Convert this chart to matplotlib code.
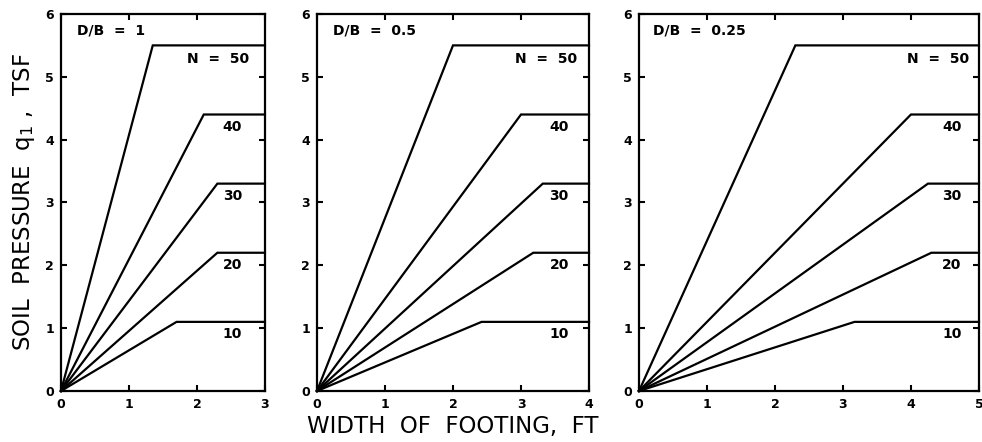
import matplotlib.pyplot as plt

# N values and plateau soil pressure (tsf) for every curve
N_values = [50, 40, 30, 20, 10]
plateau = [5.5, 4.4, 3.3, 2.2, 1.1]

# width of footing (ft) where each curve reaches its plateau, per D/B panel
db_labels = ["D/B  =  1", "D/B  =  0.5", "D/B  =  0.25"]
x_max = [3, 4, 5]
knee_db1 = [1.35, 2.1, 2.3, 2.3, 1.7]
knee_db05 = [2.0, 3.0, 3.32, 3.18, 2.42]
knee_db025 = [2.3, 4.0, 4.25, 4.3, 3.17]
knees = [knee_db1, knee_db05, knee_db025]

plt.rcParams['font.family'] = ['DejaVu Sans']

fig = plt.figure(figsize=(9.82, 4.42), dpi=100)

# axes placement in figure fraction (same px per ft in every panel)
lefts = [0.0621, 0.3228, 0.6507]
widths = [0.2077, 0.2770, 0.3462]
bottom, height = 0.1154, 0.853
# label placement in axes fraction
db_left = [0.08, 0.06, 0.04]
n50_right = [0.92, 0.955, 0.97]
num_center = [0.84, 0.89, 0.92]

txt_font = dict(fontsize=10, fontweight='bold')

for i in range(3):
    ax = fig.add_axes([lefts[i], bottom, widths[i], height])
    xm = x_max[i]
    for n, p, k in zip(N_values, plateau, knees[i]):
        ax.plot([0, k, xm], [0, p, p], color='black', lw=1.6,
                solid_joinstyle='miter', clip_on=False)
        if n == 50:
            ax.annotate("N  =  50", xy=(n50_right[i], p), xycoords=('axes fraction', 'data'),
                        xytext=(0, -10), textcoords='offset points',
                        ha='right', va='center', **txt_font)
        else:
            ax.annotate(str(n), xy=(num_center[i], p), xycoords=('axes fraction', 'data'),
                        xytext=(0, -9), textcoords='offset points',
                        ha='center', va='center', **txt_font)

    ax.text(db_left[i], 0.955, db_labels[i], transform=ax.transAxes,
            ha='left', va='center', **txt_font)

    ax.set_xlim(0, xm)
    ax.set_ylim(0, 6)
    ax.set_xticks(range(0, xm + 1))
    ax.set_yticks(range(0, 7))
    ax.tick_params(direction='in', top=True, right=True, length=4, width=1.5,
                   pad=5)
    for lab in ax.get_xticklabels() + ax.get_yticklabels():
        lab.set_fontsize(9)
        lab.set_fontweight('bold')
    for s in ax.spines.values():
        s.set_linewidth(1.6)

    if i == 0:
        ax.set_ylabel(r"SOIL  PRESSURE  $\mathregular{q_1}$ ,  TSF", fontsize=16.5,
                      labelpad=6)
    if i == 1:
        ax.set_xlabel("WIDTH  OF  FOOTING,  FT", fontsize=16.5, labelpad=3)

fig.savefig("out.png", dpi=100)
